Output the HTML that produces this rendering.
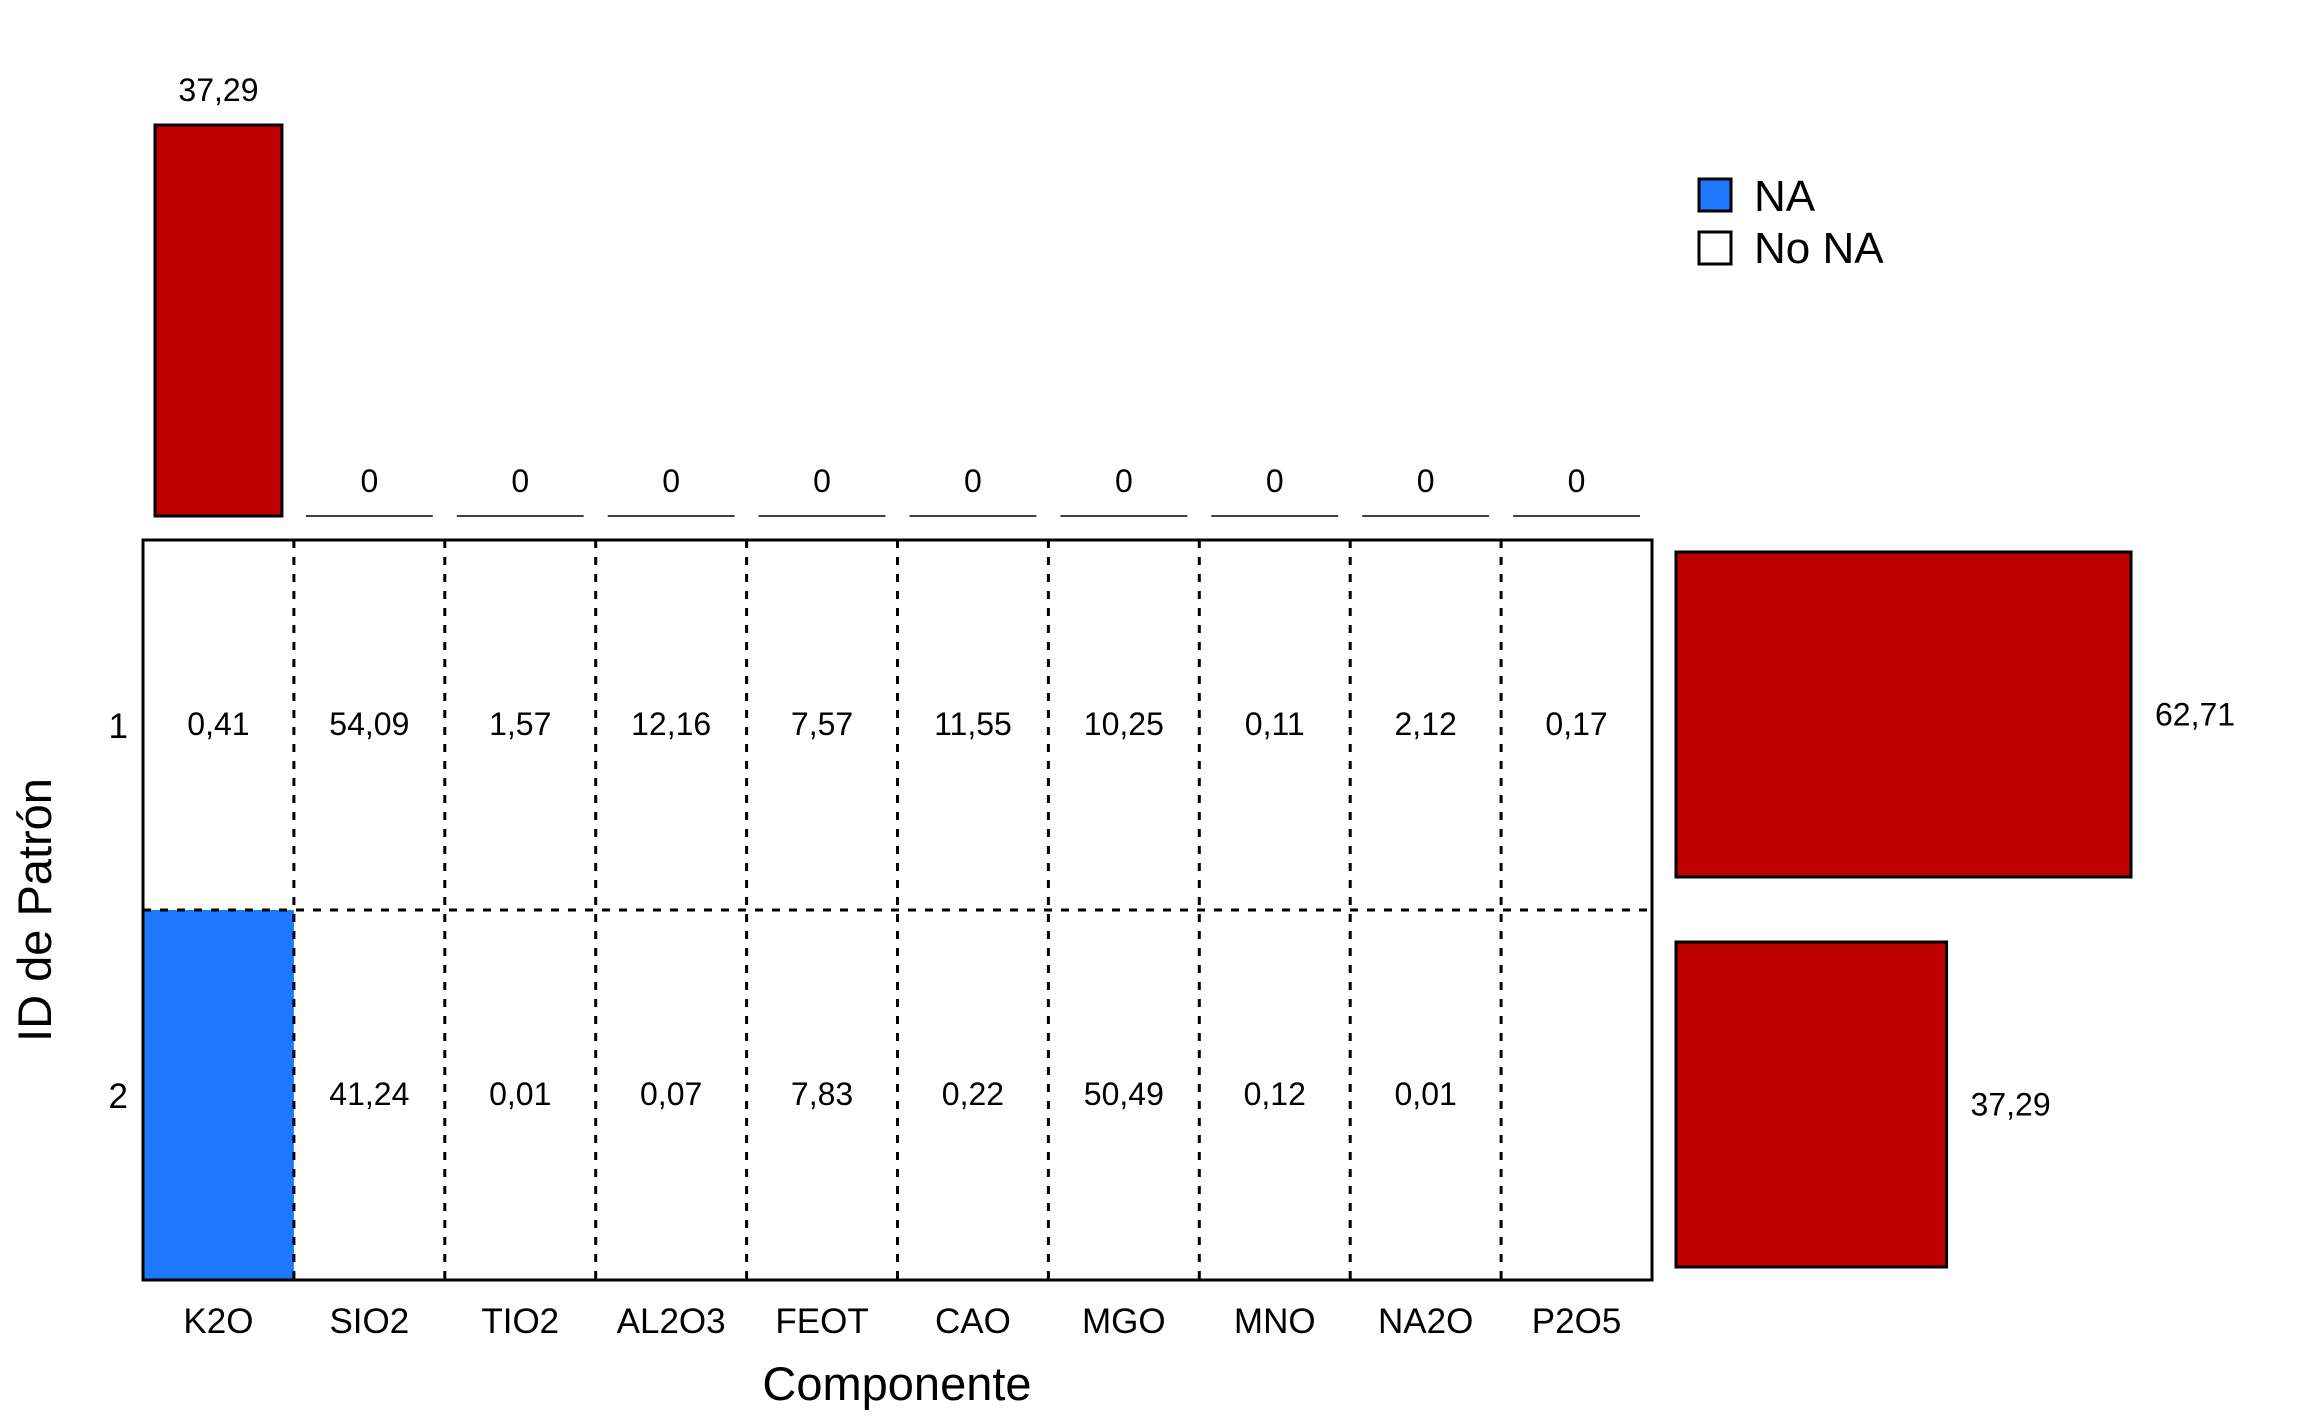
<!DOCTYPE html>
<html><head><meta charset="utf-8"><style>
html,body{margin:0;padding:0;background:#fff;}
svg{display:block;font-family:"Liberation Sans",Arial,sans-serif;}
</style></head><body>
<svg id="chart" width="2304" height="1423" viewBox="0 0 2304 1423" xmlns="http://www.w3.org/2000/svg"></svg>
<script>
const categories = ["K2O","SIO2","TIO2","AL2O3","FEOT","CAO","MGO","MNO","NA2O","P2O5"];
const topValues = [37.29,0,0,0,0,0,0,0,0,0];
const topLabels = ["37,29","0","0","0","0","0","0","0","0","0"];
const patternIds = ["1","2"];
const patternPct = [62.71,37.29];
const patternLabels = ["62,71","37,29"];
const row1Labels = ["0,41","54,09","1,57","12,16","7,57","11,55","10,25","0,11","2,12","0,17"];
const row2Labels = ["","41,24","0,01","0,07","7,83","0,22","50,49","0,12","0,01",""];
const row1NA = [0,0,0,0,0,0,0,0,0,0];
const row2NA = [1,0,0,0,0,0,0,0,0,0];

const svg = document.getElementById('chart');
const NS = "http://www.w3.org/2000/svg";
function mk(tag, attrs){const e=document.createElementNS(NS,tag);for(const k in attrs)e.setAttribute(k,attrs[k]);svg.appendChild(e);return e;}
const gL=143,gR=1652,gT=540,gB=1280;
const colW=(gR-gL)/categories.length;
const rowH=(gB-gT)/patternIds.length;
const xCol=i=>gL+i*colW;
const yRow=j=>gT+j*rowH;
const topBase=516, topScale=391/37.29;
const yTop=v=>topBase-v*topScale;
const rightL=1676, rightScale=455/62.71;
const xRight=v=>rightL+v*rightScale;
const RED="#BF0000", BLUE="#1E78FF";

const naRows=[row1NA,row2NA];
naRows.forEach((row,j)=>row.forEach((na,i)=>{
  if(na){const r=mk('rect',{x:xCol(i),y:yRow(j),width:colW,height:rowH,fill:BLUE});
  
  }
}));
for(let i=1;i<categories.length;i++){
  const l=mk('line',{x1:xCol(i),y1:gT,x2:xCol(i),y2:gB,stroke:'#000','stroke-width':3,'stroke-dasharray':'8,9'});
  
  
}
for(let j=1;j<patternIds.length;j++){
  const l=mk('line',{x1:gL,y1:yRow(j),x2:gR,y2:yRow(j),stroke:'#000','stroke-width':3,'stroke-dasharray':'8,9'});
  
  
}
const border=mk('rect',{x:gL,y:gT,width:gR-gL,height:gB-gT,fill:'none',stroke:'#000','stroke-width':3});



[row1Labels,row2Labels].forEach((row,j)=>row.forEach((t,i)=>{
  if(!t)return;
  const e=mk('text',{x:xCol(i)+colW/2,y:yRow(j)+rowH/2+10,'text-anchor':'middle','font-size':32,fill:'#000'});
  e.textContent=t;
  
  
}));
topValues.forEach((v,i)=>{
  const x0=xCol(i)+12,w=colW-24;
  if(v>0){const r=mk('rect',{x:x0,y:yTop(v),width:w,height:topBase-yTop(v),fill:RED,stroke:'#000','stroke-width':3});
    
    }
  else{const l=mk('line',{x1:x0,y1:topBase,x2:x0+w,y2:topBase,stroke:'#000','stroke-width':1.5});
    
    }
  const t=mk('text',{x:xCol(i)+colW/2,y:yTop(v)-24,'text-anchor':'middle','font-size':32,fill:'#000'});
  t.textContent=topLabels[i];
  
  
});
patternPct.forEach((v,j)=>{
  const y0=yRow(j)+(j===0?12:32),h=325;
  const r=mk('rect',{x:rightL,y:y0,width:xRight(v)-rightL,height:h,fill:RED,stroke:'#000','stroke-width':3});
  
  
  const t=mk('text',{x:xRight(v)+24,y:y0+h/2+11,'font-size':32,fill:'#000'});
  t.textContent=patternLabels[j];
  
  
});
categories.forEach((c,i)=>{
  const t=mk('text',{x:xCol(i)+colW/2,y:1333,'text-anchor':'middle','font-size':35,fill:'#000'});
  t.textContent=c;
  
  
});
patternIds.forEach((p,j)=>{
  const t=mk('text',{x:128,y:yRow(j)+rowH/2+13,'text-anchor':'end','font-size':35,fill:'#000'});
  t.textContent=p;
  
  
});
</script>
<svg style="position:absolute;left:0;top:0" width="2304" height="1423">
  <text x="897" y="1400" text-anchor="middle" font-size="47" fill="#000">Componente</text>
  <text transform="translate(51,910) rotate(-90)" text-anchor="middle" font-size="47" fill="#000">ID de Patrón</text>
  <rect x="1699" y="179" width="32" height="32" fill="#1E78FF" stroke="#000" stroke-width="3"/>
  <text x="1754" y="211" font-size="44" fill="#000">NA</text>
  <rect x="1699" y="232" width="32" height="32" fill="#fff" stroke="#000" stroke-width="3"/>
  <text x="1754" y="263" font-size="44" fill="#000">No NA</text>
</svg>
</body></html>
